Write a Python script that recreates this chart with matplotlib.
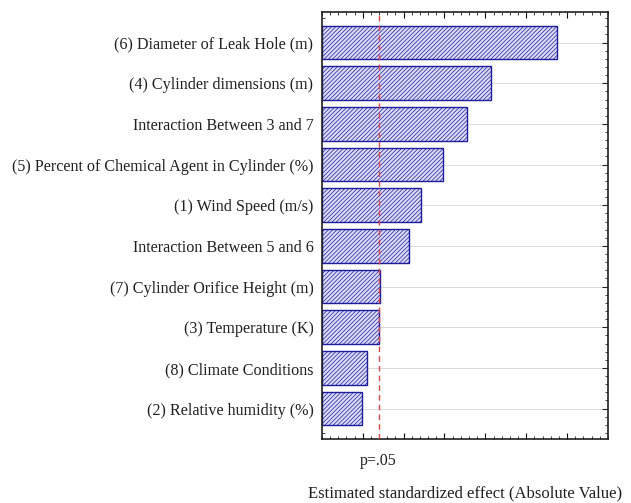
import matplotlib
matplotlib.use('Agg')
import matplotlib.pyplot as plt
from matplotlib.ticker import MultipleLocator, AutoMinorLocator

plt.rcParams['font.family'] = ['Liberation Serif', 'DejaVu Serif']
plt.rcParams['hatch.color'] = '#3434c0'
plt.rcParams['hatch.linewidth'] = 0.5

# Pareto chart of standardized effects (largest at the top)
factors = [
    '(6) Diameter of Leak Hole (m)',
    '(4) Cylinder dimensions (m)',
    'Interaction Between 3 and 7',
    '(5) Percent of Chemical Agent in Cylinder (%)',
    '(1) Wind Speed (m/s)',
    'Interaction Between 5 and 6',
    '(7) Cylinder Orifice Height (m)',
    '(3) Temperature (K)',
    '(8) Climate Conditions',
    '(2) Relative humidity (%)',
]
effects = [11.50, 8.28, 7.09, 5.95, 4.86, 4.26, 2.86, 2.80, 2.21, 1.98]
p_crit = 2.78

fig = plt.figure(figsize=(6.31, 5.03), dpi=100)
ax = fig.add_axes([0.510, 0.127, 0.4535, 0.849])

ypos = list(range(len(factors)))
for y in ypos:
    ax.axhline(y, color='#d4d4d4', lw=0.6, zorder=0)

ax.barh(ypos, effects, height=0.83, color='#dadaf8', edgecolor='#1c1c9c',
        hatch='////////', linewidth=1.0, zorder=2)

ax.axvline(p_crit, color='#d84848', lw=1.0, ls=(0, (4, 3)), zorder=3)

ax.set_xlim(0, 14)
ax.set_ylim(9.75, -0.75)
ax.set_yticks(ypos)
ax.set_yticklabels(factors, fontsize=11.6, color='#202020')
ax.set_xticks([p_crit])
ax.set_xticklabels(['p=.05'], fontsize=11.5, color='#202020')

ax.xaxis.set_minor_locator(MultipleLocator(0.4))
ax.yaxis.set_minor_locator(AutoMinorLocator(5))
ax.tick_params(axis='both', which='both', direction='in',
               top=True, right=True, colors='#202020')
ax.tick_params(axis='x', which='major', length=0, pad=10)
ax.tick_params(axis='y', which='major', length=4, pad=6)
ax.tick_params(which='minor', length=2)

# major tick marks on top and bottom every 2 units
sec = ax.secondary_xaxis('bottom')
sec.set_xticks(range(2, 14, 2))
sec.tick_params(direction='in', length=4, labelbottom=False)
sec.spines['bottom'].set_visible(False)
sec2 = ax.secondary_xaxis('top')
sec2.set_xticks(range(2, 14, 2))
sec2.tick_params(direction='in', length=4, labeltop=False)
sec2.spines['top'].set_visible(False)

for s in ax.spines.values():
    s.set_linewidth(1.2)
    s.set_color('#202020')

ax.set_xlabel('Estimated standardized effect (Absolute Value)', fontsize=12,
              labelpad=12, color='#202020')

fig.savefig('out.png', dpi=100)
